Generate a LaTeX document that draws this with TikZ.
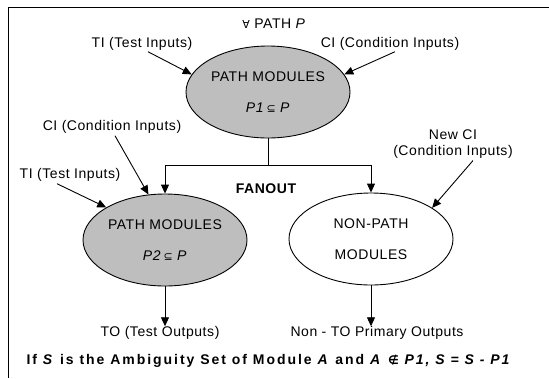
\documentclass[tikz,border=0pt]{standalone}
\usepackage{fontspec}
\setmainfont{Liberation Sans}[LetterSpace=4]
\newfontfamily\notefont{Liberation Sans}[LetterSpace=14]
\newfontfamily\symf{DejaVu Sans}
\usetikzlibrary{shapes.geometric,arrows.meta}
\definecolor{modgray}{RGB}{190,190,190}
\tikzset{
  lbl/.style={font=\fontsize{14}{16}\selectfont, inner sep=0pt, align=center},
  modell/.style={ellipse, draw, line width=0.9pt, minimum width=164pt, minimum height=92pt, inner sep=0pt,
                 font=\fontsize{14}{16}\selectfont, align=center},
  arr/.style={line width=0.9pt, -{Triangle[length=9pt,width=8pt]}},
  frameline/.style={line width=1.5pt}
}
\begin{document}
\begin{tikzpicture}[x=1pt,y=-1pt]
\useasboundingbox (0,0) rectangle (549,378);
\draw[frameline] (8.5,378) -- (8.5,7.5) -- (549,7.5);

\node[lbl] (forall) at (274,24) {{\symf\fontsize{11}{13}\selectfont ∀} PATH \textit{P}};
\node[lbl] (ti1) at (142,44) {TI (Test Inputs)};
\node[lbl] (ci1) at (390,44) {CI (Condition Inputs)};

\node[modell, fill=modgray] (pm1) at (268,92) {PATH MODULES\\[15pt]\textit{P1}\,{\symf\fontsize{11}{13}\selectfont ⊆}\ \textit{P}};

\draw[arr] ([xshift=6pt,yshift=-1pt]ti1.south) -- (pm1.167);
\draw[arr] ([xshift=5pt,yshift=-1pt]ci1.south) -- (pm1.13);

\coordinate (fan) at ([yshift=-27pt]pm1.south);
\node[lbl, font=\fontsize{14}{16}\selectfont\bfseries] (fanout) at (266,189) {FANOUT};

\node[modell, fill=modgray] (pm2) at (165,240) {PATH MODULES\\[15pt]\textit{P2}\,{\symf\fontsize{11}{13}\selectfont ⊆}\ \textit{P}};
\node[modell, fill=white] (np) at (371,239) {NON-PATH\\[15pt]MODULES};

\draw[line width=0.9pt] (pm1.south) -- (fan);
\draw[arr] (fan) -| (pm2.north);
\draw[arr] (fan) -| (np.north);

\node[lbl] (ci2) at (112,127) {CI (Condition Inputs)};
\node[lbl] (ti2) at (70,175) {TI (Test Inputs)};
\node[lbl] (newci) at (453,144) {New CI\\(Condition Inputs)};

\draw[arr] ([xshift=3pt,yshift=-2pt]ci2.south) -- (pm2.110);
\draw[arr] ([xshift=-13pt,yshift=-2pt]ti2.south) -- (pm2.151);
\draw[arr] ([xshift=20pt,yshift=-2pt]newci.south) -- (np.27);

\node[lbl] (to) at (160,333) {TO (Test Outputs)};
\node[lbl] (nto) at (377,333) {Non - TO Primary Outputs};

\draw[arr] (pm2.south) -- (pm2.south |- to.north);
\draw[arr] (np.south) -- (np.south |- nto.north);

\node[lbl, font=\notefont\fontsize{14}{16}\selectfont\bfseries] (note) at (269,361)
  {If \textit{S} is the Ambiguity Set of Module \textit{A} and \textit{A} {\symf\fontsize{12}{14}\selectfont ∉} \textit{P1, S = S - P1}};
\end{tikzpicture}
\end{document}
